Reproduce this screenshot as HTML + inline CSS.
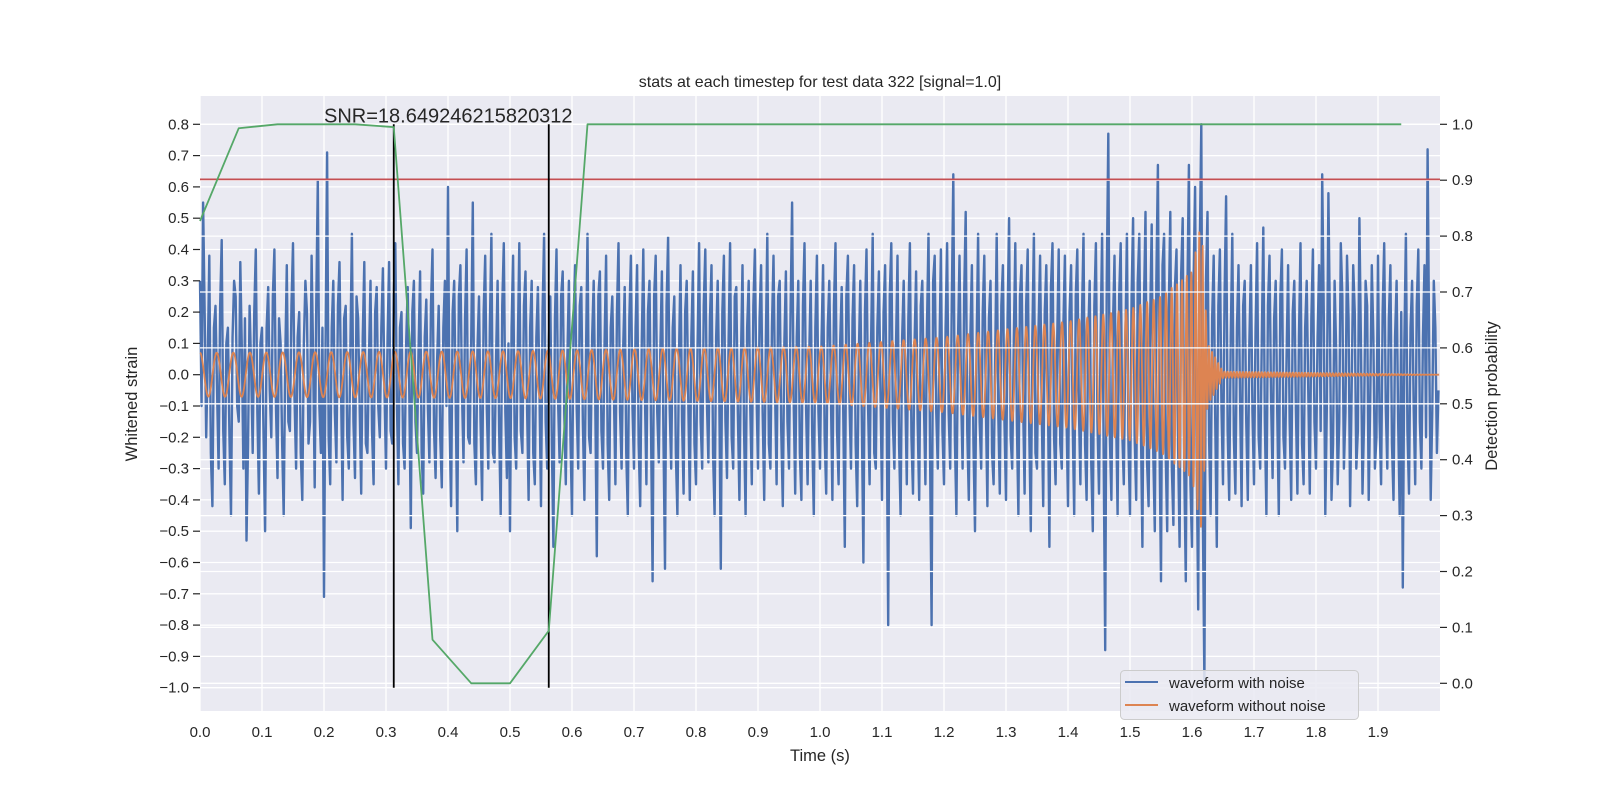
<!DOCTYPE html>
<html><head><meta charset="utf-8"><style>
html,body{margin:0;padding:0;background:#fff;}
svg{display:block;font-family:"Liberation Sans","DejaVu Sans",sans-serif;}
</style></head><body>
<svg id="chart" width="1600" height="800" viewBox="0 0 1600 800" xmlns="http://www.w3.org/2000/svg">
<rect x="0" y="0" width="1600" height="800" fill="#ffffff"/>
<rect x="200" y="96" width="1240" height="615" fill="#EAEAF2"/>
<g id="gridL"></g>
<g id="gridX"></g>
<g id="series"></g>
<g id="gridR"></g>
<g id="twin"></g>
<g id="axes"></g>
<text x="820" y="87" text-anchor="middle" font-size="16" fill="#262626">stats at each timestep for test data 322 [signal=1.0]</text>
<text x="820" y="761" text-anchor="middle" font-size="16.5" fill="#262626">Time (s)</text>
<text transform="translate(137,404) rotate(-90)" text-anchor="middle" font-size="16.5" fill="#262626">Whitened strain</text>
<text transform="translate(1497,396) rotate(-90)" text-anchor="middle" font-size="16.5" fill="#262626">Detection probability</text>
<g>
<rect x="1120.5" y="670.5" width="238" height="49" rx="4" fill="#EAEAF2" fill-opacity="0.85" stroke="#cccccc"/>
<line x1="1125" y1="682" x2="1158" y2="682" stroke="#4C72B0" stroke-width="2"/>
<text x="1169" y="688" font-size="15" fill="#262626">waveform with noise</text>
<line x1="1125" y1="705" x2="1158" y2="705" stroke="#DD8452" stroke-width="2"/>
<text x="1169" y="711" font-size="15" fill="#262626">waveform without noise</text>
</g>
</svg>
<script>
const NS="http://www.w3.org/2000/svg";
// ---- data ----
const xTicks=[0,0.1,0.2,0.3,0.4,0.5,0.6,0.7,0.8,0.9,1.0,1.1,1.2,1.3,1.4,1.5,1.6,1.7,1.8,1.9];
const yTicksLeft=[0.8,0.7,0.6,0.5,0.4,0.3,0.2,0.1,0,-0.1,-0.2,-0.3,-0.4,-0.5,-0.6,-0.7,-0.8,-0.9,-1.0];
const yTicksRight=[1.0,0.9,0.8,0.7,0.6,0.5,0.4,0.3,0.2,0.1,0.0];
const noiseDt=0.0025;
// samples at even indices
const noiseA=[
0.3,0.55,-0.2,0.38,-0.42,0.22,-0.3,0.43,-0.35,0.15,-0.45,0.3,-0.1,0.36,-0.3,-0.53,0.22,-0.25,0.4,-0.38,
0.15,-0.5,0.28,-0.2,0.4,-0.33,0.1,-0.45,0.35,-0.18,0.42,-0.3,0.2,-0.4,0.3,-0.22,0.38,-0.36,0.62,-0.25,
-0.71,0.71,-0.35,0.3,-0.28,0.36,-0.4,0.22,-0.3,0.45,-0.33,0.18,-0.38,0.36,-0.25,0.3,-0.35,0.28,-0.2,0.34,
-0.3,0.36,-0.22,0.42,-0.35,0.2,-0.3,0.28,-0.49,0.3,-0.25,0.33,-0.38,0.24,-0.28,0.4,-0.33,0.22,-0.36,0.3,
0.6,-0.42,0.3,-0.5,0.35,-0.28,0.4,-0.22,0.55,-0.35,0.25,-0.4,0.38,-0.3,0.45,-0.28,0.3,-0.45,0.42,-0.33,
-0.5,0.38,-0.3,0.42,-0.25,0.33,-0.4,0.3,-0.35,0.28,-0.42,0.45,-0.3,0.25,-0.55,0.4,-0.28,0.33,-0.35,0.3,
-0.45,0.35,-0.3,0.28,-0.4,0.45,-0.25,0.3,-0.58,0.33,-0.3,0.38,-0.4,0.25,-0.35,0.42,-0.3,0.28,-0.45,0.38,
-0.3,0.35,-0.42,0.4,-0.35,0.3,-0.66,0.38,-0.28,0.33,-0.62,0.44,-0.3,0.25,-0.45,0.35,-0.38,0.3,-0.4,0.33,
-0.35,0.42,-0.3,0.4,-0.28,0.35,-0.45,0.3,-0.62,0.38,-0.33,0.42,-0.3,0.28,-0.4,0.35,-0.45,0.3,-0.35,0.4,
-0.3,0.35,-0.4,0.45,-0.3,0.38,-0.35,0.3,-0.42,0.33,-0.3,0.55,-0.38,0.3,-0.4,0.42,-0.35,0.3,-0.45,0.38,
-0.3,0.35,-0.38,0.3,-0.4,0.42,-0.35,0.28,-0.55,0.38,-0.3,0.35,-0.42,0.3,-0.6,0.4,-0.35,0.45,-0.3,0.33,
-0.4,0.35,-0.8,0.42,-0.3,0.38,-0.45,0.3,-0.35,0.42,-0.38,0.33,-0.4,0.3,-0.35,0.45,-0.8,0.38,-0.3,0.4,
-0.35,0.42,-0.3,0.64,-0.45,0.38,-0.3,0.52,-0.4,0.35,-0.5,0.45,-0.3,0.38,-0.42,0.3,-0.35,0.45,-0.38,0.35,
-0.4,0.5,-0.3,0.42,-0.45,0.35,-0.38,0.4,-0.5,0.45,-0.3,0.38,-0.42,0.35,-0.55,0.42,-0.35,0.4,-0.3,0.38,
-0.42,0.35,-0.45,0.4,-0.35,0.45,-0.4,0.3,-0.5,0.42,-0.38,0.45,-0.88,0.77,-0.4,0.38,-0.45,0.42,-0.35,0.45,
-0.45,0.5,-0.4,0.45,-0.55,0.52,-0.42,0.48,-0.5,0.67,-0.66,0.45,-0.5,0.52,-0.48,0.4,-0.55,0.5,-0.66,0.67,
-0.55,0.6,-0.75,0.8,-0.99,0.52,-0.45,0.38,-0.55,0.4,-0.35,0.57,-0.4,0.45,-0.38,0.35,-0.42,0.3,-0.4,0.35,
-0.35,0.42,-0.3,0.47,-0.45,0.38,-0.33,0.3,-0.45,0.4,-0.3,0.35,-0.4,0.3,-0.38,0.42,-0.35,0.3,-0.38,0.4,
-0.3,0.35,0.64,-0.45,0.58,-0.4,0.3,-0.35,0.42,-0.3,0.38,-0.42,0.35,-0.3,0.5,-0.38,0.3,-0.4,0.35,-0.3,
0.38,-0.35,0.42,-0.3,0.35,-0.4,0.3,-0.45,-0.68,0.45,-0.38,0.3,-0.35,0.4,-0.3,0.35,0.72,-0.4,0.3,-0.25];
// samples at odd indices
const noiseB=[
-0.1,0.2,0.05,-0.25,0.15,-0.05,0.22,-0.18,0.1,-0.2,0.12,0.25,-0.15,0.08,0.18,-0.22,0.02,0.2,-0.12,0.1,
-0.2,0.15,-0.05,0.25,-0.1,0.18,-0.22,0.05,-0.15,0.22,-0.08,0.12,-0.25,0.1,0.2,-0.15,0.05,0.22,-0.1,0.15,
0.1,-0.2,0.15,-0.12,0.22,-0.05,0.18,-0.2,0.08,-0.15,0.25,-0.1,0.12,-0.22,0.05,-0.18,0.2,-0.1,0.15,-0.05,
0.12,-0.18,0.25,-0.08,0.15,-0.22,0.1,-0.05,0.2,-0.15,0.08,-0.25,0.12,-0.1,0.22,-0.18,0.05,-0.2,0.15,-0.1,
-0.15,0.2,-0.1,0.25,-0.05,0.18,-0.2,0.12,-0.22,0.08,-0.15,0.2,-0.1,0.15,-0.25,0.05,-0.18,0.22,-0.12,0.1,
0.15,-0.2,0.08,-0.18,0.22,-0.1,0.15,-0.25,0.12,-0.05,0.2,-0.15,0.1,-0.22,0.18,-0.08,0.25,-0.12,0.05,-0.2,
0.18,-0.1,0.22,-0.15,0.05,-0.2,0.12,-0.08,0.25,-0.18,0.1,-0.22,0.15,-0.05,0.2,-0.12,0.08,-0.25,0.18,-0.1,
0.15,-0.22,0.1,-0.05,0.2,-0.18,0.25,-0.12,0.08,-0.2,0.22,-0.1,0.15,-0.25,0.05,-0.15,0.2,-0.08,0.12,-0.22,
0.1,-0.15,0.22,-0.08,0.18,-0.25,0.12,-0.05,0.2,-0.15,0.1,-0.2,0.25,-0.12,0.05,-0.18,0.15,-0.1,0.22,-0.05,
0.18,-0.12,0.08,-0.22,0.15,-0.05,0.25,-0.18,0.1,-0.15,0.2,-0.08,0.12,-0.25,0.22,-0.1,0.05,-0.2,0.15,-0.12,
0.12,-0.2,0.15,-0.05,0.22,-0.18,0.1,-0.12,0.25,-0.08,0.18,-0.22,0.05,-0.15,0.2,-0.1,0.12,-0.25,0.15,-0.05,
0.2,-0.1,0.25,-0.15,0.08,-0.22,0.12,-0.05,0.18,-0.2,0.1,-0.15,0.22,-0.08,0.15,-0.25,0.3,-0.12,0.05,-0.18,
0.15,-0.12,0.22,-0.2,0.1,-0.05,0.25,-0.18,0.12,-0.22,0.08,-0.15,0.2,-0.1,0.18,-0.25,0.05,-0.12,0.22,-0.15,
0.18,-0.2,0.1,-0.15,0.25,-0.08,0.22,-0.18,0.12,-0.25,0.15,-0.1,0.2,-0.05,0.28,-0.2,0.1,-0.22,0.15,-0.12,
0.2,-0.15,0.25,-0.1,0.18,-0.22,0.12,-0.28,0.22,-0.15,0.1,-0.25,0.3,-0.2,0.15,-0.12,0.25,-0.18,0.1,-0.22,
0.25,-0.2,0.3,-0.15,0.22,-0.28,0.18,-0.25,0.3,-0.2,0.35,-0.25,0.2,-0.3,0.28,-0.22,0.32,-0.3,0.25,-0.35,
0.3,-0.25,0.4,-0.45,0.3,-0.2,0.18,-0.15,0.22,-0.1,0.25,-0.18,0.12,-0.2,0.15,-0.08,0.22,-0.15,0.1,-0.12,
0.15,-0.2,0.1,-0.15,0.22,-0.08,0.18,-0.12,0.25,-0.2,0.05,-0.15,0.2,-0.1,0.12,-0.22,0.15,-0.05,0.18,-0.15,
0.12,-0.18,0.2,-0.1,0.15,-0.22,0.08,-0.15,0.25,-0.12,0.18,-0.05,0.2,-0.18,0.1,-0.15,0.22,-0.08,0.12,-0.2,
-0.15,0.2,-0.1,0.18,-0.22,0.12,-0.15,0.2,0.1,-0.18,0.15,-0.1,0.22,-0.15,0.12,-0.2,0.1,-0.12,0.15,-0.05];
const chirpFreqTimes=[0,0.4,0.8,1.0,1.2,1.4,1.5,1.55,1.6,1.62,2.0];
const chirpFreqHz=[37,40,45,50,58,72,85,100,140,200,200];
const chirpAmpTimes=[0,0.5,1.0,1.2,1.4,1.5,1.55,1.6,1.615,1.625,1.65,2.0];
const chirpAmpValues=[0.07,0.075,0.09,0.12,0.17,0.21,0.25,0.33,0.5,0.1,0.01,0];
const probTimes=[0,0.0625,0.125,0.1875,0.25,0.3125,0.375,0.4375,0.5,0.5625,0.625,0.6875,0.75,0.8125,0.875,0.9375,1.0,1.0625,1.125,1.1875,1.25,1.3125,1.375,1.4375,1.5,1.5625,1.625,1.6875,1.75,1.8125,1.875,1.9375];
const probValues=[0.827,0.993,1,1,1,0.995,0.078,0,0,0.094,1,1,1,1,1,1,1,1,1,1,1,1,1,1,1,1,1,1,1,1,1,1];
const threshold=0.624;
const markerTimes=[0.3125,0.5625];
const snrText="SNR=18.649246215820312";
// ---- axes ----
const X0=200,X1=1440,XMIN=0,XMAX=2.0;
const sx=t=>X0+(t-XMIN)/(XMAX-XMIN)*(X1-X0);
const syL=v=>374.7-v*313;
const syR=p=>683.3-p*559;
function mk(tag,attrs,parent){const e=document.createElementNS(NS,tag);for(const k in attrs)e.setAttribute(k,attrs[k]);parent.appendChild(e);return e;}
const gL=document.getElementById('gridL'),gX=document.getElementById('gridX'),gR=document.getElementById('gridR'),
ser=document.getElementById('series'),tw=document.getElementById('twin'),ax=document.getElementById('axes');
const fmt=v=>(v<0?'\u2212':'')+Math.abs(v).toFixed(1);
yTicksLeft.forEach(v=>{const y=syL(v);
 const l=mk('line',{x1:X0,x2:X1,y1:y,y2:y,stroke:'#fff','stroke-width':1.3},gL);
 
 
 const tk=mk('line',{x1:193,x2:200,y1:y,y2:y,stroke:'#262626','stroke-width':1.2},ax);
 
 
 const t=mk('text',{x:189,y:y+5,'text-anchor':'end','font-size':15,fill:'#262626'},ax);t.textContent=fmt(v);
 
 
});
xTicks.forEach(v=>{const x=sx(v);
 const l=mk('line',{x1:x,x2:x,y1:96,y2:711,stroke:'#fff','stroke-width':1.3},gX);
 
 
 const t=mk('text',{x:x,y:737,'text-anchor':'middle','font-size':15,fill:'#262626'},ax);t.textContent=v.toFixed(1);
 
 
});
yTicksRight.forEach(v=>{const y=syR(v);
 const l=mk('line',{x1:X0,x2:X1,y1:y,y2:y,stroke:'#fff','stroke-width':1.3},gR);
 
 
 const tk=mk('line',{x1:1440,x2:1447,y1:y,y2:y,stroke:'#262626','stroke-width':1.2},ax);
 
 
 const t=mk('text',{x:1452,y:y+5,'font-size':15,fill:'#262626'},ax);t.textContent=v.toFixed(1);
 
 
});
// noise series (interleave A/B)
const noise=[];for(let i=0;i<noiseA.length;i++){noise.push(noiseA[i]);if(i<noiseB.length)noise.push(noiseB[i]);}
let d='';noise.forEach((v,i)=>{d+=(i?'L':'M')+sx(i*noiseDt).toFixed(2)+','+syL(v).toFixed(2);});
const pn=mk('path',{d:d,fill:'none',stroke:'#4C72B0','stroke-width':2.4,'stroke-linejoin':'round'},ser);


// clean chirp
function interp(ts,vs,t){if(t<=ts[0])return vs[0];for(let i=1;i<ts.length;i++){if(t<=ts[i]){const f=(t-ts[i-1])/(ts[i]-ts[i-1]);return vs[i-1]+f*(vs[i]-vs[i-1]);}}return vs[vs.length-1];}
let phase=0,dc='';const step=0.0004;
for(let t=0;t<=1.999;t+=step){const a=interp(chirpAmpTimes,chirpAmpValues,t);const v=a*Math.cos(2*Math.PI*phase);
 dc+=(dc?'L':'M')+sx(t).toFixed(2)+','+syL(v).toFixed(2);phase+=interp(chirpFreqTimes,chirpFreqHz,t)*step;}
const pc=mk('path',{d:dc,fill:'none',stroke:'#DD8452','stroke-width':1.8,'stroke-linejoin':'round'},ser);


// threshold
const th=mk('line',{x1:X0,x2:X1,y1:syL(threshold),y2:syL(threshold),stroke:'#C44E52','stroke-width':1.8},tw);


markerTimes.forEach(t=>{const l=mk('line',{x1:sx(t),x2:sx(t),y1:syL(0.8),y2:syL(-1.0),stroke:'#000','stroke-width':1.8},tw);
 
 });
let dp='';probTimes.forEach((t,i)=>{dp+=(i?'L':'M')+sx(t).toFixed(2)+','+syR(probValues[i]).toFixed(2);});
const pg=mk('path',{d:dp,fill:'none',stroke:'#55A868','stroke-width':1.8,'stroke-linejoin':'round'},tw);


const st=mk('text',{x:sx(0.2),y:syL(0.8)-2,'font-size':20,fill:'#262626'},tw);st.textContent=snrText;


</script>
</body></html>
